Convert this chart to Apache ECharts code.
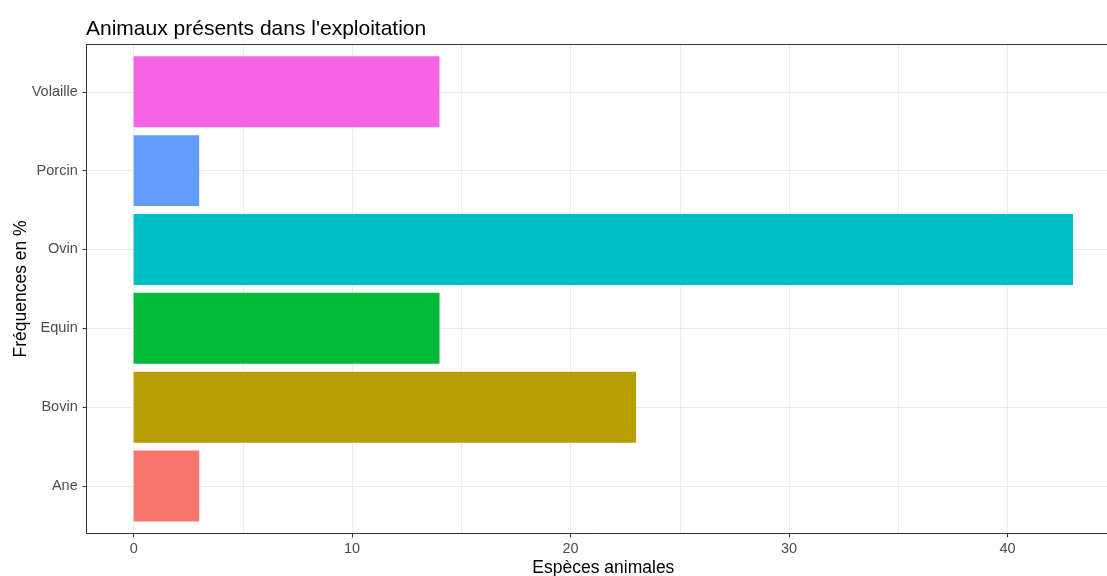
<!DOCTYPE html>
<html>
<head>
<meta charset="utf-8">
<script src="https://cdn.jsdelivr.net/npm/echarts@6/dist/echarts.min.js"></script>
<style>
html,body{margin:0;padding:0;background:#fff;}
#chart{width:1107px;height:576px;}
</style>
</head>
<body>
<div id="chart"></div>
<script>
const categories = ['Ane', 'Bovin', 'Equin', 'Ovin', 'Porcin', 'Volaille'];
const frequencies = [3, 23, 14, 43, 3, 14];
const barColors = ['#F8766D', '#B79F00', '#00BA38', '#00BFC4', '#619CFF', '#F564E3'];
const xMajorTicks = [0, 10, 20, 30, 40];
const xMinorTicks = [5, 15, 25, 35, 45];
const yTickPositions = [1, 2, 3, 4, 5, 6];

const FONT = 'Liberation Sans, Arial, sans-serif';
const chart = echarts.init(document.getElementById('chart'), null, {renderer: 'canvas'});

const barData = frequencies.map((v, i) => [v, yTickPositions[i]]);

const option = {
  backgroundColor: '#ffffff',
  animation: false,
  title: {
    text: "Animaux présents dans l'exploitation",
    left: 81,
    top: 14,
    textStyle: {fontFamily: FONT, fontSize: 21, fontWeight: 'normal', color: '#000000'}
  },
  grid: {
    left: 86.7,
    right: -13,
    top: 44.5,
    bottom: 42.7,
    containLabel: false,
    outerBoundsMode: 'none'
  },
  xAxis: [
    {
      type: 'value',
      position: 'bottom',
      min: -2.15,
      max: 45.15,
      name: 'Espèces animales',
      nameLocation: 'middle',
      nameGap: 26,
      nameMoveOverlap: false,
      nameTextStyle: {fontFamily: FONT, fontSize: 17.5, color: '#000000'},
      axisLine: {show: true, onZero: false, lineStyle: {color: '#333333', width: 1}},
      axisTick: {show: true, length: 4, customValues: xMajorTicks, lineStyle: {color: '#333333'}},
      axisLabel: {show: true, customValues: xMajorTicks, margin: 8, color: '#4D4D4D', fontFamily: FONT, fontSize: 14.5},
      splitLine: {show: true, customValues: xMajorTicks, lineStyle: {color: '#EBEBEB', width: 1}}
    },
    {
      type: 'value',
      position: 'top',
      min: -2.15,
      max: 45.15,
      axisLine: {show: true, onZero: false, lineStyle: {color: '#333333', width: 1}},
      axisTick: {show: false, customValues: xMinorTicks},
      axisLabel: {show: false, customValues: xMinorTicks},
      splitLine: {show: true, customValues: xMinorTicks, lineStyle: {color: '#EBEBEB', width: 1}}
    }
  ],
  yAxis: [
    {
      type: 'value',
      position: 'left',
      min: 0.4,
      max: 6.6,
      name: 'Fréquences en %',
      nameLocation: 'middle',
      nameRotate: 90,
      nameGap: 57,
      nameMoveOverlap: false,
      nameTextStyle: {fontFamily: FONT, fontSize: 17.5, color: '#000000'},
      axisLine: {show: true, onZero: false, lineStyle: {color: '#333333', width: 1}},
      axisTick: {show: true, length: 4, customValues: yTickPositions, lineStyle: {color: '#333333'}},
      axisLabel: {
        show: true,
        customValues: yTickPositions,
        margin: 9,
        color: '#4D4D4D',
        fontFamily: FONT,
        fontSize: 14.5,
        formatter: (v) => categories[Math.round(v) - 1]
      },
      splitLine: {show: true, customValues: yTickPositions, lineStyle: {color: '#EBEBEB', width: 1}}
    }
  ],
  series: [
    {
      type: 'custom',
      xAxisIndex: 0,
      yAxisIndex: 0,
      encode: {x: 0, y: 1},
      data: barData,
      renderItem: function (params, api) {
        const v = api.value(0);
        const y = api.value(1);
        const start = api.coord([0, y]);
        const end = api.coord([v, y]);
        const h = api.size([0, 0.9])[1];
        return {
          type: 'rect',
          shape: {x: start[0], y: start[1] - h / 2, width: end[0] - start[0], height: h},
          style: {fill: barColors[params.dataIndex]}
        };
      }
    }
  ]
};
chart.setOption(option);
</script>
</body>
</html>
